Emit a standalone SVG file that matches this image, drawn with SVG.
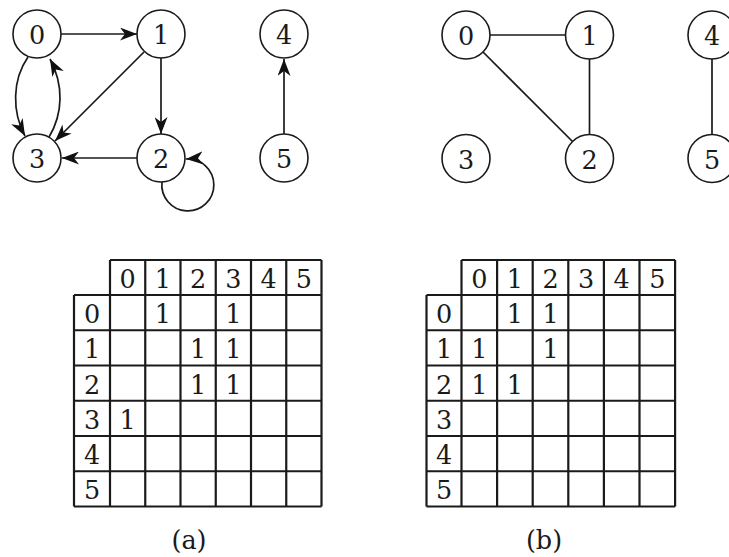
<svg xmlns="http://www.w3.org/2000/svg" width="729" height="557" viewBox="0 0 729 557">
<style>
.nd{fill:#fff;stroke:#1a1a1a;stroke-width:1.6}
.t{font-family:'DejaVu Serif','Liberation Serif',serif;font-size:25.5px;fill:#1a1a1a;text-anchor:middle}
.e{fill:none;stroke:#1a1a1a;stroke-width:1.7}
.a{marker-end:url(#arr)}
.grid{fill:none;stroke:#1a1a1a;stroke-width:2.2}
</style>
<defs>
<marker id="arr" viewBox="0 0 17 13" refX="17" refY="6.5" markerWidth="17" markerHeight="13" markerUnits="userSpaceOnUse" orient="auto">
<path d="M0,0 L17,6.5 L0,13 L5,6.5 z" fill="#111"/>
</marker>
</defs>
<rect width="729" height="557" fill="#fff"/>

<g id="connectors">
<line class="e a" x1="61" y1="34" x2="137" y2="34"/>
<line class="e a" x1="161" y1="58" x2="161" y2="134"/>
<line class="e a" x1="144" y1="52" x2="55" y2="141"/>
<line class="e a" x1="137" y1="158" x2="62" y2="158"/>
<path class="e a" d="M28,57 C12,80 12,112 25,136"/>
<path class="e a" d="M49,137 C63,114 64,85 50,59"/>
<path class="e a" d="M162,182 A26 26 0 1 0 186,159"/>
<line class="e a" x1="284" y1="134" x2="284" y2="59"/>
<line class="e" x1="490" y1="35" x2="565.5" y2="35"/>
<line class="e" x1="589.5" y1="59" x2="589.5" y2="134.5"/>
<line class="e" x1="483" y1="52" x2="572.5" y2="141.5"/>
<line class="e" x1="712" y1="59" x2="712" y2="134.5"/>
</g>

<g id="a-n0"><circle class="nd" cx="37" cy="34" r="24"/><text class="t" x="37" y="44">0</text></g>
<g id="a-n1"><circle class="nd" cx="161" cy="34" r="24"/><text class="t" x="161" y="44">1</text></g>
<g id="a-n2"><circle class="nd" cx="161" cy="158" r="24"/><text class="t" x="161" y="168">2</text></g>
<g id="a-n3"><circle class="nd" cx="37" cy="158" r="24"/><text class="t" x="37" y="168">3</text></g>
<g id="a-n4"><circle class="nd" cx="284" cy="34" r="24"/><text class="t" x="284" y="44">4</text></g>
<g id="a-n5"><circle class="nd" cx="284" cy="158" r="24"/><text class="t" x="284" y="168">5</text></g>

<g id="b-n0"><circle class="nd" cx="466" cy="35" r="24"/><text class="t" x="466" y="45">0</text></g>
<g id="b-n1"><circle class="nd" cx="589.5" cy="35" r="24"/><text class="t" x="589.5" y="45">1</text></g>
<g id="b-n2"><circle class="nd" cx="589.5" cy="158.5" r="24"/><text class="t" x="589.5" y="168.5">2</text></g>
<g id="b-n3"><circle class="nd" cx="466" cy="158.5" r="24"/><text class="t" x="466" y="168.5">3</text></g>
<g id="b-n4"><circle class="nd" cx="712" cy="35" r="24"/><text class="t" x="712" y="45">4</text></g>
<g id="b-n5"><circle class="nd" cx="712" cy="158.5" r="24"/><text class="t" x="712" y="168.5">5</text></g>

<g id="matrix-a">
<path class="grid" d="M110,260 H321.5 M74,295 H321.5 M74,330.25 H321.5 M74,365.5 H321.5 M74,400.75 H321.5 M74,436 H321.5 M74,471.25 H321.5 M74,506.5 H321.5 M74,295 V506.5 M110,260 V506.5 M145.25,260 V506.5 M180.5,260 V506.5 M215.75,260 V506.5 M251,260 V506.5 M286.25,260 V506.5 M321.5,260 V506.5"/>
<text class="t" x="127.6" y="288">0</text><text class="t" x="162.9" y="288">1</text><text class="t" x="198.1" y="288">2</text><text class="t" x="233.4" y="288">3</text><text class="t" x="268.6" y="288">4</text><text class="t" x="303.9" y="288">5</text>
<text class="t" x="92" y="323">0</text><text class="t" x="92" y="358.25">1</text><text class="t" x="92" y="393.5">2</text><text class="t" x="92" y="428.75">3</text><text class="t" x="92" y="464">4</text><text class="t" x="92" y="499.25">5</text>
<text class="t" x="162.9" y="323">1</text><text class="t" x="233.4" y="323">1</text>
<text class="t" x="198.1" y="358.25">1</text><text class="t" x="233.4" y="358.25">1</text>
<text class="t" x="198.1" y="393.5">1</text><text class="t" x="233.4" y="393.5">1</text>
<text class="t" x="127.6" y="428.75">1</text>
</g>

<g id="matrix-b">
<path class="grid" d="M461.5,260 H675.1 M426.5,295 H675.1 M426.5,330.25 H675.1 M426.5,365.5 H675.1 M426.5,400.75 H675.1 M426.5,436 H675.1 M426.5,471.25 H675.1 M426.5,506.5 H675.1 M426.5,295 V506.5 M461.5,260 V506.5 M497.1,260 V506.5 M532.7,260 V506.5 M568.3,260 V506.5 M603.9,260 V506.5 M639.5,260 V506.5 M675.1,260 V506.5"/>
<text class="t" x="479.3" y="288">0</text><text class="t" x="514.9" y="288">1</text><text class="t" x="550.5" y="288">2</text><text class="t" x="586.1" y="288">3</text><text class="t" x="621.7" y="288">4</text><text class="t" x="657.3" y="288">5</text>
<text class="t" x="444" y="323">0</text><text class="t" x="444" y="358.25">1</text><text class="t" x="444" y="393.5">2</text><text class="t" x="444" y="428.75">3</text><text class="t" x="444" y="464">4</text><text class="t" x="444" y="499.25">5</text>
<text class="t" x="514.9" y="323">1</text><text class="t" x="550.5" y="323">1</text>
<text class="t" x="479.3" y="358.25">1</text><text class="t" x="550.5" y="358.25">1</text>
<text class="t" x="479.3" y="393.5">1</text><text class="t" x="514.9" y="393.5">1</text>
</g>

<g id="captions">
<text class="t" x="189" y="549">(a)</text>
<text class="t" x="544" y="549">(b)</text>
</g>
</svg>
